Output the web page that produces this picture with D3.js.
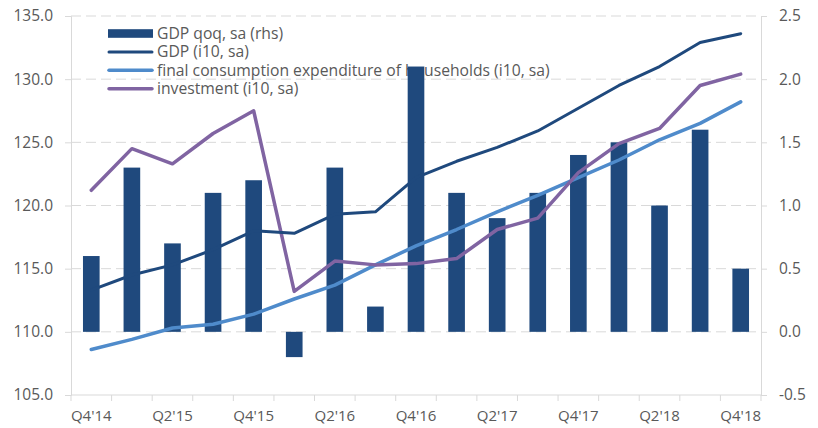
<!DOCTYPE html>
<html>
<head>
<meta charset="utf-8">
<script src="https://d3js.org/d3.v7.min.js"></script>
<style>
  body { margin: 0; background: #fff; }
  svg text { font-family: "Open Sans", "Liberation Sans", sans-serif; fill: #595959; }
</style>
</head>
<body>
<svg id="chart"></svg>
<script>
  // quarters on the x axis
  var quarters = ["Q4'14", "Q1'15", "Q2'15", "Q3'15", "Q4'15", "Q1'16", "Q2'16", "Q3'16", "Q4'16",
                  "Q1'17", "Q2'17", "Q3'17", "Q4'17", "Q1'18", "Q2'18", "Q3'18", "Q4'18"]
  var tickLabels = ["Q4'14", "Q2'15", "Q4'15", "Q2'16", "Q4'16", "Q2'17", "Q4'17", "Q2'18", "Q4'18"]

  // GDP qoq, sa (rhs) - bars
  var gdpQoq = [0.6, 1.3, 0.7, 1.1, 1.2, -0.2, 1.3, 0.2, 2.1, 1.1, 0.9, 1.1, 1.4, 1.5, 1.0, 1.6, 0.5]
  // indices, 2010 = 100
  var gdpIdx = [113.3, 114.5, 115.3, 116.5, 118.0, 117.8, 119.3, 119.5, 122.2, 123.5, 124.6, 125.9, 127.7, 129.5, 131.0, 132.9, 133.6]
  var consIdx = [108.6, 109.4, 110.3, 110.6, 111.4, 112.6, 113.7, 115.3, 116.8, 118.1, 119.5, 120.8, 122.2, 123.6, 125.2, 126.5, 128.2]
  var invIdx = [121.2, 124.5, 123.3, 125.7, 127.5, 113.2, 115.6, 115.3, 115.4, 115.8, 118.1, 119.0, 122.6, 124.9, 126.1, 129.5, 130.4]

  var leftTicks = [105, 110, 115, 120, 125, 130, 135]
  var rightTicks = [-0.5, 0, 0.5, 1.0, 1.5, 2.0, 2.5]

  var W = 818, H = 428
  var mL = 71, mR = 761, mT = 16, mB = 395
  var navy = '#1f497d', lightBlue = '#4f8bcb', purple = '#8064a2', axisGrey = '#d9d9d9'

  var svg = d3.select('#chart').attr('width', W).attr('height', H)

  var x = d3.scaleBand().domain(quarters).range([mL, mR]).padding(0)
  var yL = d3.scaleLinear().domain([105, 135]).range([mB, mT])
  var yR = d3.scaleLinear().domain([-0.5, 2.5]).range([mB, mT])
  var cx = function (q) { return x(q) + x.bandwidth() / 2 }

  // dashed gridlines
  svg.append('g').selectAll('line').data(leftTicks.slice(1)).enter().append('line')
      .attr('x1', mL).attr('x2', mR)
      .attr('y1', function (d) { return yL(d) }).attr('y2', function (d) { return yL(d) })
      .attr('stroke', axisGrey).attr('stroke-width', 1).attr('stroke-dasharray', '10,5')

  // left axis
  var axL = svg.append('g').attr('transform', 'translate(' + mL + ',0)')
      .call(d3.axisLeft(yL).tickValues(leftTicks).tickSize(6).tickPadding(12)
          .tickFormat(function (d) { return d.toFixed(1) }))
  // right axis
  var axR = svg.append('g').attr('transform', 'translate(' + mR + ',0)')
      .call(d3.axisRight(yR).tickValues(rightTicks).tickSize(6).tickPadding(12)
          .tickFormat(function (d) { return d.toFixed(1) }))
  // bottom axis: ticks at category boundaries, labels every other quarter
  var axB = svg.append('g').attr('transform', 'translate(0,' + mB + ')')
  axB.append('line').attr('x1', mL).attr('x2', mR).attr('stroke', axisGrey)
  axB.selectAll('line.tk').data(quarters.concat(['end'])).enter().append('line').attr('class', 'tk')
      .attr('x1', function (d, i) { return i < quarters.length ? x(d) : mR })
      .attr('x2', function (d, i) { return i < quarters.length ? x(d) : mR })
      .attr('y1', 0).attr('y2', 6).attr('stroke', axisGrey)
  axB.selectAll('text').data(tickLabels).enter().append('text')
      .attr('x', function (d) { return cx(d) }).attr('y', 26)
      .attr('text-anchor', 'middle').style('font-size', '15px').text(function (d) { return d })

  ;[axL, axR].forEach(function (ax) {
    ax.select('.domain').attr('stroke', axisGrey)
    ax.selectAll('.tick line').attr('stroke', axisGrey)
    ax.selectAll('.tick text').style('font-size', '15.5px').attr('fill', '#595959')
    ax.attr('font-family', null).attr('font-size', null)
  })

  // legend (drawn before the bars, the tall bar covers part of it)
  var legend = [
    {name: 'GDP qoq, sa (rhs)', type: 'bar', color: navy},
    {name: 'GDP (i10, sa)', type: 'line', color: navy, w: 3},
    {name: 'final consumption expenditure of households (i10, sa)', type: 'line', color: lightBlue, w: 3.5},
    {name: 'investment (i10, sa)', type: 'line', color: purple, w: 3.5}
  ]
  var lg = svg.append('g').selectAll('g').data(legend).enter().append('g')
      .attr('transform', function (d, i) { return 'translate(108,' + (33.5 + i * 18.4) + ')' })
  lg.filter(function (d) { return d.type === 'bar' }).append('rect')
      .attr('x', 0).attr('y', -4.3).attr('width', 45).attr('height', 8.6).attr('fill', function (d) { return d.color })
  lg.filter(function (d) { return d.type === 'line' }).append('line')
      .attr('x1', 1).attr('x2', 44).attr('y1', 0).attr('y2', 0)
      .attr('stroke', function (d) { return d.color }).attr('stroke-width', function (d) { return d.w })
      .attr('stroke-linecap', 'round')
  lg.append('text').attr('x', 49).attr('dy', '0.35em').style('font-size', '15.7px').text(function (d) { return d.name })

  // bars
  var bw = x.bandwidth() * 0.41
  svg.append('g').selectAll('rect').data(gdpQoq).enter().append('rect')
      .attr('x', function (d, i) { return cx(quarters[i]) - bw / 2 })
      .attr('y', function (d) { return yR(Math.max(0, d)) })
      .attr('width', bw)
      .attr('height', function (d) { return Math.abs(yR(d) - yR(0)) })
      .attr('fill', navy)

  // lines
  var series = [
    {vals: consIdx, color: lightBlue, w: 3.5},
    {vals: invIdx, color: purple, w: 3.5},
    {vals: gdpIdx, color: navy, w: 3}
  ]
  var line = d3.line().x(function (d, i) { return cx(quarters[i]) }).y(function (d) { return yL(d) })
  svg.append('g').selectAll('path').data(series).enter().append('path')
      .attr('d', function (d) { return line(d.vals) })
      .attr('fill', 'none')
      .attr('stroke', function (d) { return d.color })
      .attr('stroke-width', function (d) { return d.w })
      .attr('stroke-linejoin', 'round').attr('stroke-linecap', 'round')
</script>
</body>
</html>
